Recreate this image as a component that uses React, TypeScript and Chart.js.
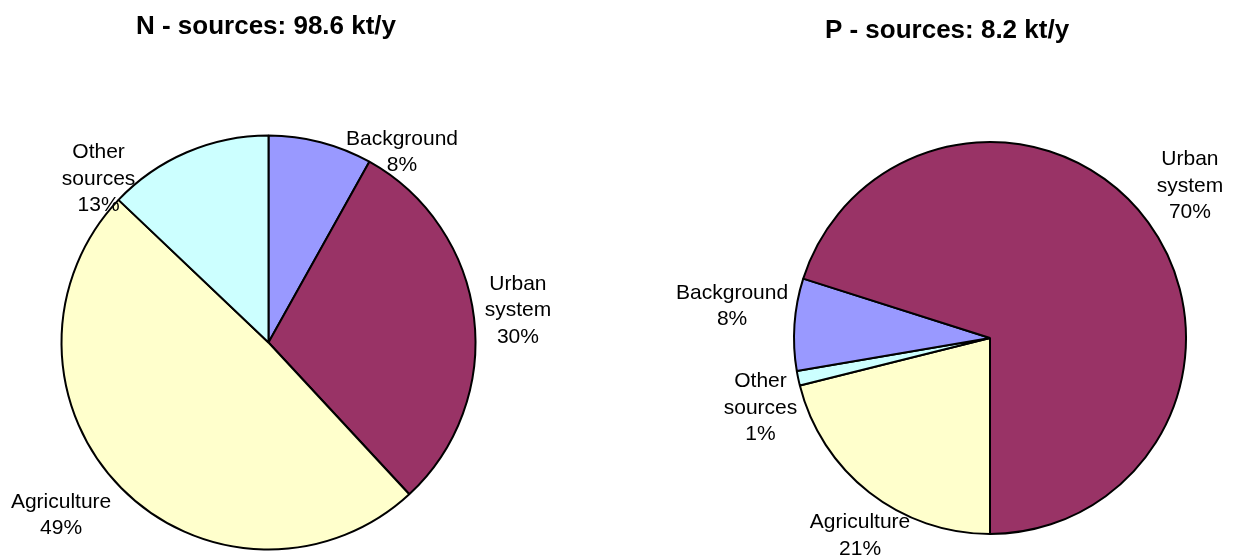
import React, { useEffect, useRef } from "react";
import { Chart, registerables } from "chart.js";

Chart.register(...registerables);

// ---- Data ----
const nTitle = "N - sources: 98.6 kt/y";
const nCategories = ["Background", "Urban system", "Agriculture", "Other sources"];
const nValues = [8.1, 30.0, 49.0, 12.9];

const pTitle = "P - sources: 8.2 kt/y";
const pCategories = ["Agriculture", "Other sources", "Background", "Urban system"];
const pValues = [21.1, 1.2, 7.6, 70.1];

// label text split into lines
const categoryLines: Record<string, string[]> = {
  Background: ["Background"],
  "Urban system": ["Urban", "system"],
  Agriculture: ["Agriculture"],
  "Other sources": ["Other", "sources"],
};

// ---- Styles / layout ----
const categoryColors: Record<string, string> = {
  Background: "#9999FF",
  "Urban system": "#993366",
  Agriculture: "#FFFFCC",
  "Other sources": "#CCFFFF",
};

// label anchors relative to pie centre, in units of the radius
const nLabelAnchors = [
  [0.645, -0.919],
  [1.205, -0.155],
  [-1.002, 0.834],
  [-0.821, -0.79],
];
const pLabelAnchors = [
  [-0.663, 1.009],
  [-1.171, 0.356],
  [-1.316, -0.162],
  [1.02, -0.776],
];

const FONT = '"Liberation Sans", Arial, Helvetica, sans-serif';
const W = 1233;
const H = 559;

type PieSpec = {
  title: string;
  categories: string[];
  values: number[];
  anchors: number[][];
  rotation: number;
  canvasLeft: number;
  canvasWidth: number;
  cx: number; // pie centre in canvas coords
  cy: number;
  r: number;
  titleX: number;
  titleY: number;
};

const BORDER = 2;

const specs: PieSpec[] = [
  {
    title: nTitle,
    categories: nCategories,
    values: nValues,
    anchors: nLabelAnchors,
    rotation: 0,
    canvasLeft: 0,
    canvasWidth: 616,
    cx: 268.5,
    cy: 342.5,
    r: 207,
    titleX: 266,
    titleY: 34,
  },
  {
    title: pTitle,
    categories: pCategories,
    values: pValues,
    anchors: pLabelAnchors,
    rotation: 180,
    canvasLeft: 616,
    canvasWidth: 617,
    cx: 374,
    cy: 338,
    r: 196,
    titleX: 331,
    titleY: 38,
  },
];

function PieChart({ spec }: { spec: PieSpec }) {
  const ref = useRef<HTMLCanvasElement | null>(null);

  useEffect(() => {
    if (!ref.current) return;
    const half = spec.r + BORDER / 2;
    const padding = {
      left: spec.cx - half,
      top: spec.cy - half,
      right: spec.canvasWidth - (spec.cx + half),
      bottom: H - (spec.cy + half),
    };
    const total = spec.values.reduce((a, b) => a + b, 0);

    const labelPlugin = {
      id: "pieLabels" + spec.canvasLeft,
      afterDatasetsDraw(chart: any) {
        const ctx = chart.ctx as CanvasRenderingContext2D;
        const meta = chart.getDatasetMeta(0);
        const arc0 = meta.data[0];
        if (!arc0) return;
        const { x, y, outerRadius } = arc0.getProps(["x", "y", "outerRadius"], true);
        ctx.save();
        ctx.fillStyle = "#000";
        ctx.textAlign = "center";
        ctx.textBaseline = "middle";
        ctx.font = `21px ${FONT}`;
        const lh = 26.5;
        spec.categories.forEach((cat, i) => {
          const [ax, ay] = spec.anchors[i];
          const px = x + ax * outerRadius;
          const py = y + ay * outerRadius;
          const pct = Math.round((spec.values[i] / total) * 100);
          const lines = [...categoryLines[cat], pct + "%"];
          const y0 = py - ((lines.length - 1) / 2) * lh;
          lines.forEach((t, k) => ctx.fillText(t, px, y0 + k * lh));
        });
        // title
        ctx.font = `bold 26px ${FONT}`;
        ctx.textBaseline = "alphabetic";
        ctx.fillText(spec.title, spec.titleX, spec.titleY);
        ctx.restore();
      },
    };

    const chart = new Chart(ref.current, {
      type: "pie",
      data: {
        labels: spec.categories,
        datasets: [
          {
            data: spec.values,
            backgroundColor: spec.categories.map((c) => categoryColors[c]),
            borderColor: "#000000",
            borderWidth: BORDER,
            hoverOffset: 0,
          },
        ],
      },
      options: {
        animation: false,
        responsive: false,
        devicePixelRatio: 1,
        rotation: spec.rotation,
        layout: { padding },
        plugins: {
          legend: { display: false },
          tooltip: { enabled: false },
        },
        events: [],
      },
      plugins: [labelPlugin],
    });
    return () => chart.destroy();
  }, [spec]);

  return (
    <canvas
      ref={ref}
      width={spec.canvasWidth}
      height={H}
      style={{
        position: "absolute",
        left: spec.canvasLeft,
        top: 0,
        width: spec.canvasWidth,
        height: H,
      }}
    />
  );
}

export default function App() {
  return (
    <div
      style={{
        position: "fixed",
        left: 0,
        top: 0,
        width: W,
        height: H,
        background: "#ffffff",
        overflow: "hidden",
      }}
    >
      {specs.map((s) => (
        <PieChart key={s.canvasLeft} spec={s} />
      ))}
    </div>
  );
}
